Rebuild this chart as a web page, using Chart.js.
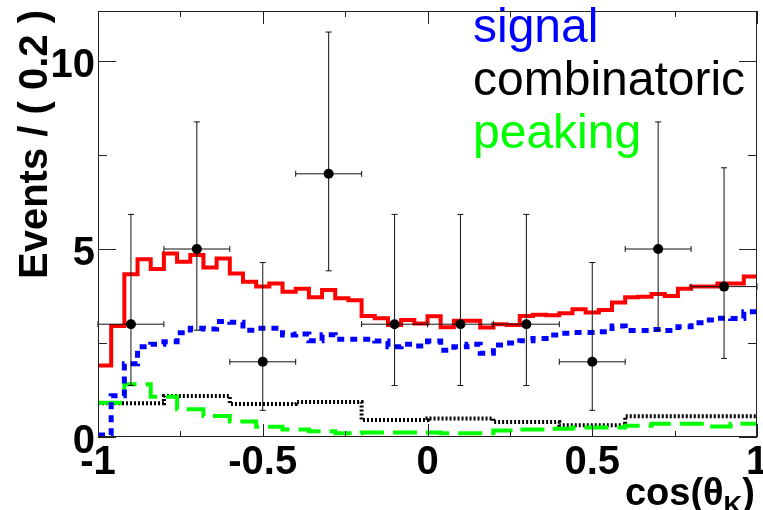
<!DOCTYPE html>
<html>
<head>
<meta charset="utf-8">
<script src="https://cdn.jsdelivr.net/npm/chart.js@4.4.1/dist/chart.umd.min.js"></script>
<style>
  body { margin: 0; background: #fff; }
  #wrap { width: 763px; height: 510px; }
</style>
</head>
<body>
<div id="wrap"><canvas id="fitChart" width="763" height="510"></canvas></div>
<script>
// data points, bins of 0.2
const dataCenters = [-0.9, -0.7, -0.5, -0.3, -0.1, 0.1, 0.3, 0.5, 0.7, 0.9];
const dataCounts = [3, 5, 2, 7, 3, 3, 3, 2, 5, 4];
const errLow = [1.63, 2.16, 1.29, 2.58, 1.63, 1.63, 1.63, 1.29, 2.16, 1.91];
const errHigh = [2.92, 3.38, 2.64, 3.77, 2.92, 2.92, 2.92, 2.64, 3.38, 3.16];
const binHalfWidth = 0.1;

// total fit, 50 bins of 0.04
const totalFit = [1.9, 2.95, 4.33, 4.73, 4.47, 4.88, 4.66, 4.84, 4.51, 4.75,
                  4.35, 4.13, 4.0, 4.08, 3.86, 3.94, 3.72, 3.91, 3.69, 3.64,
                  3.22, 3.16, 2.98, 3.11, 3.02, 3.21, 2.92, 3.09, 3.09, 2.91,
                  3.0, 2.98, 3.22, 3.25, 3.24, 3.29, 3.40, 3.31, 3.38, 3.58,
                  3.72, 3.73, 3.80, 3.75, 3.94, 4.0, 4.0, 4.08, 4.08, 4.27];
// signal, 50 bins of 0.04
const signalFit = [0.05, 1.1, 1.95, 2.4, 2.47, 2.53, 2.77, 2.89, 2.87, 3.07,
                   3.05, 2.84, 2.89, 2.89, 2.71, 2.74, 2.56, 2.72, 2.6, 2.6,
                   2.6, 2.55, 2.40, 2.47, 2.42, 2.55, 2.31, 2.4, 2.47, 2.23,
                   2.45, 2.5, 2.56, 2.62, 2.71, 2.76, 2.78, 2.78, 2.8, 2.95,
                   2.83, 2.83, 2.86, 2.83, 2.93, 3.04, 3.11, 3.16, 3.15, 3.33];
// combinatoric, 10 bins of 0.2
const combFit = [0.9, 1.09, 0.88, 0.93, 0.45, 0.49, 0.4, 0.31, 0.55, 0.55];
// peaking, 25 bins of 0.08
const peakFit = [0.91, 1.4, 1.07, 0.74, 0.56, 0.41, 0.27, 0.2, 0.15, 0.1,
                 0.12, 0.12, 0.12, 0.1, 0.1, 0.17, 0.2, 0.22, 0.25, 0.25,
                 0.3, 0.35, 0.35, 0.28, 0.35];

const xTicksMajor = [-1, -0.5, 0, 0.5, 1];
const xTickLabels = ['-1', '-0.5', '0', '0.5', '1'];
const xTicksMinor = [-0.75, -0.25, 0.25, 0.75];
const yTicksMajor = [0, 5, 10];
const yTicksMinor = [2.5, 7.5];

const legendNames = ['signal', 'combinatoric', 'peaking'];
const legendColors = ['#0000ff', '#000000', '#00ff00'];

const FONT = '"Liberation Sans", Arial, Helvetica, sans-serif';

// histogram -> step points on the bin edges
function stepPoints(values) {
    const w = 2 / values.length;
    const pts = values.map((v, i) => ({ x: -1 + i * w, y: v }));
    pts.push({ x: 1, y: values[values.length - 1] });
    return pts;
}

function histDataset(values, color, width, dash) {
    return {
        type: 'line',
        data: stepPoints(values),
        borderColor: color,
        borderWidth: width,
        borderDash: dash,
        stepped: true,
        pointRadius: 0,
        fill: false,
        tension: 0
    };
}

const errorBars = {
    id: 'errorBars',
    beforeDatasetDraw(chart, args) {
        if (args.index !== 0) return;
        const ctx = chart.ctx;
        const xs = chart.scales.x, ys = chart.scales.y;
        ctx.save();
        ctx.strokeStyle = '#111';
        ctx.lineWidth = 1;
        dataCenters.forEach((c, i) => {
            const px = xs.getPixelForValue(c);
            const py = ys.getPixelForValue(dataCounts[i]);
            const yLo = ys.getPixelForValue(dataCounts[i] - errLow[i]);
            const yHi = ys.getPixelForValue(dataCounts[i] + errHigh[i]);
            const xL = xs.getPixelForValue(c - binHalfWidth);
            const xR = xs.getPixelForValue(c + binHalfWidth);
            ctx.beginPath();
            ctx.moveTo(px, yLo); ctx.lineTo(px, yHi);
            ctx.moveTo(px - 3, yLo); ctx.lineTo(px + 3, yLo);
            ctx.moveTo(px - 3, yHi); ctx.lineTo(px + 3, yHi);
            ctx.moveTo(xL, py); ctx.lineTo(xR, py);
            ctx.moveTo(xL, py - 3); ctx.lineTo(xL, py + 3);
            ctx.moveTo(xR, py - 3); ctx.lineTo(xR, py + 3);
            ctx.stroke();
        });
        ctx.restore();
    }
};

// ROOT style frame, inward ticks, labels and titles
const rootFrame = {
    id: 'rootFrame',
    afterDraw(chart) {
        const ctx = chart.ctx;
        const a = chart.chartArea;
        const xs = chart.scales.x, ys = chart.scales.y;
        ctx.save();
        ctx.strokeStyle = '#222';
        ctx.lineWidth = 1;
        ctx.strokeRect(a.left + 0.5, a.top + 0.5, a.right - a.left - 1, a.bottom - a.top - 1);

        ctx.beginPath();
        const xTick = (v, len) => {
            const px = Math.round(xs.getPixelForValue(v)) + 0.5;
            ctx.moveTo(px, a.bottom); ctx.lineTo(px, a.bottom - len);
            ctx.moveTo(px, a.top); ctx.lineTo(px, a.top + len);
        };
        const yTick = (v, len) => {
            const py = Math.round(ys.getPixelForValue(v)) + 0.5;
            ctx.moveTo(a.left, py); ctx.lineTo(a.left + len, py);
            ctx.moveTo(a.right, py); ctx.lineTo(a.right - len, py);
        };
        xTicksMajor.forEach(v => xTick(v, 13));
        xTicksMinor.forEach(v => xTick(v, 6));
        yTicksMajor.forEach(v => yTick(v, 18));
        yTicksMinor.forEach(v => yTick(v, 9));
        ctx.stroke();

        ctx.fillStyle = '#000';
        ctx.font = 'bold 40px ' + FONT;
        ctx.textAlign = 'center';
        ctx.textBaseline = 'alphabetic';
        xTicksMajor.forEach((v, i) => {
            ctx.fillText(xTickLabels[i], xs.getPixelForValue(v), 474);
        });
        ctx.textAlign = 'right';
        yTicksMajor.forEach(v => {
            ctx.fillText(String(v), 95, ys.getPixelForValue(v) + 16);
        });

        // x title cos(theta_K)
        ctx.textAlign = 'left';
        const big = 'bold 38px ' + FONT, small = 'bold 26px ' + FONT;
        ctx.font = big;
        const w1 = ctx.measureText('cos(\u03b8').width;
        const w3 = ctx.measureText(')').width;
        ctx.font = small;
        const w2 = ctx.measureText('K').width;
        let x0 = 755 - (w1 + w2 + w3);
        ctx.font = big;
        ctx.fillText('cos(\u03b8', x0, 505);
        ctx.font = small;
        ctx.fillText('K', x0 + w1, 514);
        ctx.font = big;
        ctx.fillText(')', x0 + w1 + w2, 505);

        // y title
        ctx.save();
        ctx.font = 'bold 40px ' + FONT;
        ctx.translate(47, 10);
        ctx.rotate(-Math.PI / 2);
        ctx.textAlign = 'right';
        ctx.fillText('Events / ( 0.2 )', 0, 0);
        ctx.restore();

        // legend text
        ctx.font = '48px ' + FONT;
        ctx.textAlign = 'left';
        legendNames.forEach((name, i) => {
            ctx.fillStyle = legendColors[i];
            ctx.fillText(name, 473, 42 + 53 * i);
        });
        ctx.restore();
    }
};

const points = dataCenters.map((c, i) => ({ x: c, y: dataCounts[i] }));

new Chart(document.getElementById('fitChart'), {
    type: 'scatter',
    data: {
        datasets: [
            {
                type: 'scatter',
                data: points,
                pointRadius: 5,
                pointBackgroundColor: '#000',
                pointBorderWidth: 0,
                showLine: false
            },
            histDataset(totalFit, '#ff0000', 4, []),
            histDataset(signalFit, '#0000ff', 5, [7, 6]),
            histDataset(peakFit, '#00ff00', 4, [24, 9]),
            histDataset(combFit, '#000000', 4, [2, 2])
        ]
    },
    options: {
        responsive: false,
        animation: false,
        layout: { padding: { left: 98, right: 6, top: 11, bottom: 73 } },
        plugins: {
            legend: { display: false },
            tooltip: { enabled: false }
        },
        scales: {
            x: { type: 'linear', min: -1, max: 1, display: false },
            y: { type: 'linear', min: 0, max: 11.33, display: false }
        }
    },
    plugins: [errorBars, rootFrame]
});
</script>
</body>
</html>
